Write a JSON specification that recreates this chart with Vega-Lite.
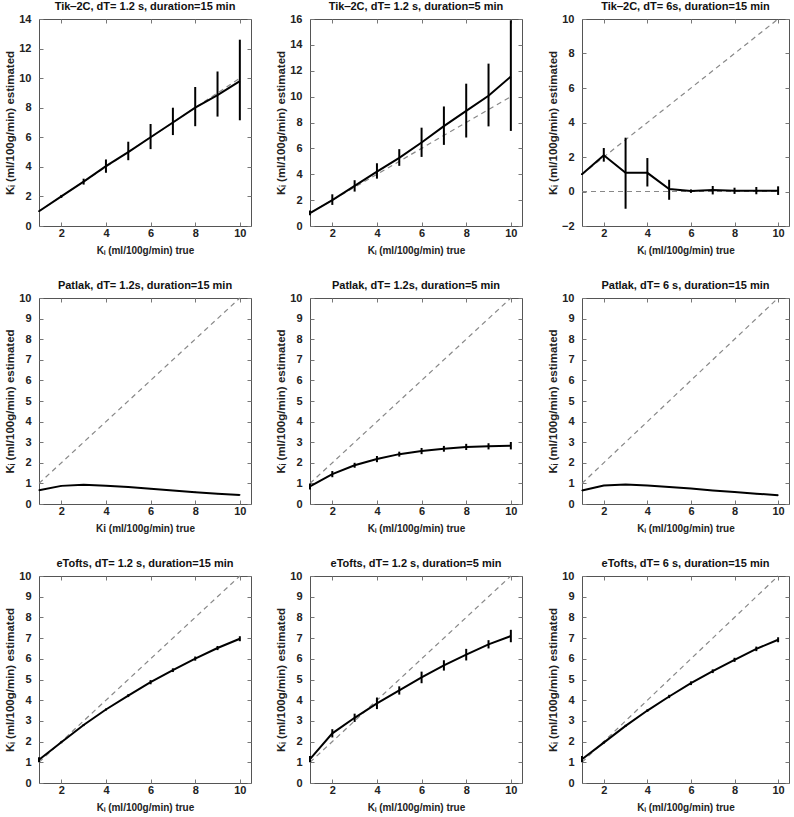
{
  "$schema": "https://vega.github.io/schema/vega-lite/v6.json",
  "padding": {"left": 4, "top": 0, "right": 2, "bottom": 2},
  "background": "white",
  "datasets": {
    "est": [
      {"p": 1, "x": 1, "y": 1.0, "lo": 0.97, "hi": 1.03},
      {"p": 1, "x": 2, "y": 2.0, "lo": 1.9, "hi": 2.1},
      {"p": 1, "x": 3, "y": 3.0, "lo": 2.8, "hi": 3.2},
      {"p": 1, "x": 4, "y": 4.05, "lo": 3.6, "hi": 4.5},
      {"p": 1, "x": 5, "y": 5.0, "lo": 4.45, "hi": 5.7},
      {"p": 1, "x": 6, "y": 6.0, "lo": 5.2, "hi": 6.9},
      {"p": 1, "x": 7, "y": 7.0, "lo": 6.15, "hi": 8.0},
      {"p": 1, "x": 8, "y": 8.0, "lo": 6.75, "hi": 9.4},
      {"p": 1, "x": 9, "y": 8.85, "lo": 7.4, "hi": 10.45},
      {"p": 1, "x": 10, "y": 9.8, "lo": 7.15, "hi": 12.6},
      {"p": 2, "x": 1, "y": 1.0, "lo": 0.83, "hi": 1.2},
      {"p": 2, "x": 2, "y": 2.0, "lo": 1.63, "hi": 2.45},
      {"p": 2, "x": 3, "y": 3.1, "lo": 2.66, "hi": 3.54},
      {"p": 2, "x": 4, "y": 4.2, "lo": 3.66, "hi": 4.85},
      {"p": 2, "x": 5, "y": 5.27, "lo": 4.65, "hi": 5.94},
      {"p": 2, "x": 6, "y": 6.45, "lo": 5.34, "hi": 7.6},
      {"p": 2, "x": 7, "y": 7.72, "lo": 6.27, "hi": 9.24},
      {"p": 2, "x": 8, "y": 8.9, "lo": 6.84, "hi": 11.0},
      {"p": 2, "x": 9, "y": 10.07, "lo": 7.7, "hi": 12.55},
      {"p": 2, "x": 10, "y": 11.55, "lo": 7.35, "hi": 15.9},
      {"p": 3, "x": 1, "y": 1.0, "lo": 0.95, "hi": 1.05},
      {"p": 3, "x": 2, "y": 2.1, "lo": 1.73, "hi": 2.52},
      {"p": 3, "x": 3, "y": 1.08, "lo": -1.0, "hi": 3.12},
      {"p": 3, "x": 4, "y": 1.08, "lo": 0.29, "hi": 1.94},
      {"p": 3, "x": 5, "y": 0.14, "lo": -0.48, "hi": 0.68},
      {"p": 3, "x": 6, "y": 0.03, "lo": -0.08, "hi": 0.12},
      {"p": 3, "x": 7, "y": 0.08, "lo": -0.17, "hi": 0.32},
      {"p": 3, "x": 8, "y": 0.05, "lo": -0.14, "hi": 0.22},
      {"p": 3, "x": 9, "y": 0.05, "lo": -0.16, "hi": 0.26},
      {"p": 3, "x": 10, "y": 0.05, "lo": -0.2, "hi": 0.3},
      {"p": 4, "x": 1, "y": 0.67, "lo": 0.65, "hi": 0.69},
      {"p": 4, "x": 2, "y": 0.88, "lo": 0.86, "hi": 0.9},
      {"p": 4, "x": 3, "y": 0.93, "lo": 0.91, "hi": 0.95},
      {"p": 4, "x": 4, "y": 0.89, "lo": 0.87, "hi": 0.91},
      {"p": 4, "x": 5, "y": 0.82, "lo": 0.8, "hi": 0.84},
      {"p": 4, "x": 6, "y": 0.74, "lo": 0.72, "hi": 0.76},
      {"p": 4, "x": 7, "y": 0.66, "lo": 0.64, "hi": 0.68},
      {"p": 4, "x": 8, "y": 0.57, "lo": 0.55, "hi": 0.59},
      {"p": 4, "x": 9, "y": 0.5, "lo": 0.48, "hi": 0.52},
      {"p": 4, "x": 10, "y": 0.44, "lo": 0.42, "hi": 0.46},
      {"p": 5, "x": 1, "y": 0.85, "lo": 0.7, "hi": 1.0},
      {"p": 5, "x": 2, "y": 1.45, "lo": 1.3, "hi": 1.6},
      {"p": 5, "x": 3, "y": 1.88, "lo": 1.76, "hi": 2.0},
      {"p": 5, "x": 4, "y": 2.18, "lo": 2.03, "hi": 2.33},
      {"p": 5, "x": 5, "y": 2.42, "lo": 2.3, "hi": 2.54},
      {"p": 5, "x": 6, "y": 2.57, "lo": 2.42, "hi": 2.72},
      {"p": 5, "x": 7, "y": 2.68, "lo": 2.54, "hi": 2.82},
      {"p": 5, "x": 8, "y": 2.77, "lo": 2.62, "hi": 2.92},
      {"p": 5, "x": 9, "y": 2.8, "lo": 2.65, "hi": 2.95},
      {"p": 5, "x": 10, "y": 2.83, "lo": 2.65, "hi": 3.01},
      {"p": 6, "x": 1, "y": 0.66, "lo": 0.64, "hi": 0.68},
      {"p": 6, "x": 2, "y": 0.9, "lo": 0.88, "hi": 0.92},
      {"p": 6, "x": 3, "y": 0.95, "lo": 0.93, "hi": 0.97},
      {"p": 6, "x": 4, "y": 0.9, "lo": 0.88, "hi": 0.92},
      {"p": 6, "x": 5, "y": 0.83, "lo": 0.81, "hi": 0.85},
      {"p": 6, "x": 6, "y": 0.75, "lo": 0.73, "hi": 0.77},
      {"p": 6, "x": 7, "y": 0.66, "lo": 0.64, "hi": 0.68},
      {"p": 6, "x": 8, "y": 0.58, "lo": 0.56, "hi": 0.6},
      {"p": 6, "x": 9, "y": 0.5, "lo": 0.48, "hi": 0.52},
      {"p": 6, "x": 10, "y": 0.43, "lo": 0.41, "hi": 0.45},
      {"p": 7, "x": 1, "y": 1.12, "lo": 1.0, "hi": 1.24},
      {"p": 7, "x": 2, "y": 1.97, "lo": 1.92, "hi": 2.02},
      {"p": 7, "x": 3, "y": 2.8, "lo": 2.75, "hi": 2.85},
      {"p": 7, "x": 4, "y": 3.55, "lo": 3.5, "hi": 3.6},
      {"p": 7, "x": 5, "y": 4.22, "lo": 4.15, "hi": 4.29},
      {"p": 7, "x": 6, "y": 4.87, "lo": 4.77, "hi": 4.97},
      {"p": 7, "x": 7, "y": 5.45, "lo": 5.36, "hi": 5.54},
      {"p": 7, "x": 8, "y": 6.01, "lo": 5.91, "hi": 6.11},
      {"p": 7, "x": 9, "y": 6.52, "lo": 6.42, "hi": 6.62},
      {"p": 7, "x": 10, "y": 6.97, "lo": 6.85, "hi": 7.09},
      {"p": 8, "x": 1, "y": 1.15, "lo": 1.0, "hi": 1.3},
      {"p": 8, "x": 2, "y": 2.4, "lo": 2.2, "hi": 2.6},
      {"p": 8, "x": 3, "y": 3.15, "lo": 2.95, "hi": 3.35},
      {"p": 8, "x": 4, "y": 3.85, "lo": 3.57, "hi": 4.13},
      {"p": 8, "x": 5, "y": 4.47, "lo": 4.27, "hi": 4.67},
      {"p": 8, "x": 6, "y": 5.1, "lo": 4.82, "hi": 5.38},
      {"p": 8, "x": 7, "y": 5.68, "lo": 5.43, "hi": 5.93},
      {"p": 8, "x": 8, "y": 6.2, "lo": 5.92, "hi": 6.48},
      {"p": 8, "x": 9, "y": 6.7, "lo": 6.5, "hi": 6.9},
      {"p": 8, "x": 10, "y": 7.1, "lo": 6.8, "hi": 7.4},
      {"p": 9, "x": 1, "y": 1.15, "lo": 1.0, "hi": 1.3},
      {"p": 9, "x": 2, "y": 1.95, "lo": 1.9, "hi": 2.0},
      {"p": 9, "x": 3, "y": 2.76, "lo": 2.71, "hi": 2.81},
      {"p": 9, "x": 4, "y": 3.5, "lo": 3.44, "hi": 3.56},
      {"p": 9, "x": 5, "y": 4.18, "lo": 4.1, "hi": 4.26},
      {"p": 9, "x": 6, "y": 4.82, "lo": 4.73, "hi": 4.91},
      {"p": 9, "x": 7, "y": 5.4, "lo": 5.31, "hi": 5.49},
      {"p": 9, "x": 8, "y": 5.95, "lo": 5.85, "hi": 6.05},
      {"p": 9, "x": 9, "y": 6.48, "lo": 6.37, "hi": 6.59},
      {"p": 9, "x": 10, "y": 6.92, "lo": 6.8, "hi": 7.04}
    ],
    "ref": [
      {"p": 1, "g": "id", "x": 1, "y": 1}, {"p": 1, "g": "id", "x": 10, "y": 10},
      {"p": 2, "g": "id", "x": 1, "y": 1}, {"p": 2, "g": "id", "x": 10, "y": 10},
      {"p": 3, "g": "id", "x": 1, "y": 1}, {"p": 3, "g": "id", "x": 10, "y": 10},
      {"p": 3, "g": "zero", "x": 1, "y": 0}, {"p": 3, "g": "zero", "x": 10, "y": 0},
      {"p": 4, "g": "id", "x": 1, "y": 1}, {"p": 4, "g": "id", "x": 10, "y": 10},
      {"p": 5, "g": "id", "x": 1, "y": 1}, {"p": 5, "g": "id", "x": 10, "y": 10},
      {"p": 6, "g": "id", "x": 1, "y": 1}, {"p": 6, "g": "id", "x": 10, "y": 10},
      {"p": 7, "g": "id", "x": 1, "y": 1}, {"p": 7, "g": "id", "x": 10, "y": 10},
      {"p": 8, "g": "id", "x": 1, "y": 1}, {"p": 8, "g": "id", "x": 10, "y": 10},
      {"p": 9, "g": "id", "x": 1, "y": 1}, {"p": 9, "g": "id", "x": 10, "y": 10}
    ]
  },
  "columns": 3,
  "spacing": {"row": 23, "column": 23},
  "concat": [
    {
      "title": "Tik‒2C, dT= 1.2 s, duration=15 min",
      "width": 212, "height": 207,
      "resolve": {"axis": {"x": "independent", "y": "independent"}},
      "layer": [
        {"data": {"name": "ref"}, "transform": [{"filter": "datum.p == 1"}],
         "mark": {"type": "line", "color": "#888", "strokeWidth": 1.2, "strokeDash": [5, 4]},
         "encoding": {
           "x": {"field": "x", "type": "quantitative", "scale": {"domain": [1, 10.5]}, "axis": {"values": [2, 4, 6, 8, 10], "title": "Kᵢ (ml/100g/min) true"}},
           "y": {"field": "y", "type": "quantitative", "scale": {"domain": [0, 14]}, "axis": {"values": [0, 2, 4, 6, 8, 10, 12, 14], "title": "Kᵢ (ml/100g/min) estimated"}},
           "detail": {"field": "g"}}},
        {"data": {"name": "est"}, "transform": [{"filter": "datum.p == 1"}],
         "mark": {"type": "line", "color": "black", "strokeWidth": 2},
         "encoding": {
           "x": {"field": "x", "type": "quantitative", "scale": {"domain": [1, 10.5]}, "axis": {"orient": "top", "values": [2, 4, 6, 8, 10], "labels": false, "title": null, "maxExtent": 0, "minExtent": 0}},
           "y": {"field": "y", "type": "quantitative", "scale": {"domain": [0, 14]}, "axis": {"orient": "right", "values": [0, 2, 4, 6, 8, 10, 12, 14], "labels": false, "title": null, "maxExtent": 0, "minExtent": 0}}}},
        {"data": {"name": "est"}, "transform": [{"filter": "datum.p == 1"}],
         "mark": {"type": "rule", "color": "black", "strokeWidth": 2},
         "encoding": {
           "x": {"field": "x", "type": "quantitative", "scale": {"domain": [1, 10.5]}, "axis": null},
           "y": {"field": "lo", "type": "quantitative", "scale": {"domain": [0, 14]}, "axis": null},
           "y2": {"field": "hi"}}}
      ]
    },
    {
      "title": "Tik‒2C, dT= 1.2 s, duration=5 min",
      "width": 212, "height": 207,
      "resolve": {"axis": {"x": "independent", "y": "independent"}},
      "layer": [
        {"data": {"name": "ref"}, "transform": [{"filter": "datum.p == 2"}],
         "mark": {"type": "line", "color": "#888", "strokeWidth": 1.2, "strokeDash": [5, 4]},
         "encoding": {
           "x": {"field": "x", "type": "quantitative", "scale": {"domain": [1, 10.5]}, "axis": {"values": [2, 4, 6, 8, 10], "title": "Kᵢ (ml/100g/min) true"}},
           "y": {"field": "y", "type": "quantitative", "scale": {"domain": [0, 16]}, "axis": {"values": [0, 2, 4, 6, 8, 10, 12, 14, 16], "title": "Kᵢ (ml/100g/min) estimated"}},
           "detail": {"field": "g"}}},
        {"data": {"name": "est"}, "transform": [{"filter": "datum.p == 2"}],
         "mark": {"type": "line", "color": "black", "strokeWidth": 2},
         "encoding": {
           "x": {"field": "x", "type": "quantitative", "scale": {"domain": [1, 10.5]}, "axis": {"orient": "top", "values": [2, 4, 6, 8, 10], "labels": false, "title": null, "maxExtent": 0, "minExtent": 0}},
           "y": {"field": "y", "type": "quantitative", "scale": {"domain": [0, 16]}, "axis": {"orient": "right", "values": [0, 2, 4, 6, 8, 10, 12, 14, 16], "labels": false, "title": null, "maxExtent": 0, "minExtent": 0}}}},
        {"data": {"name": "est"}, "transform": [{"filter": "datum.p == 2"}],
         "mark": {"type": "rule", "color": "black", "strokeWidth": 2},
         "encoding": {
           "x": {"field": "x", "type": "quantitative", "scale": {"domain": [1, 10.5]}, "axis": null},
           "y": {"field": "lo", "type": "quantitative", "scale": {"domain": [0, 16]}, "axis": null},
           "y2": {"field": "hi"}}}
      ]
    },
    {
      "title": "Tik‒2C, dT= 6s, duration=15 min",
      "width": 207, "height": 207,
      "resolve": {"axis": {"x": "independent", "y": "independent"}},
      "layer": [
        {"data": {"name": "ref"}, "transform": [{"filter": "datum.p == 3"}],
         "mark": {"type": "line", "color": "#888", "strokeWidth": 1.2, "strokeDash": [5, 4]},
         "encoding": {
           "x": {"field": "x", "type": "quantitative", "scale": {"domain": [1, 10.5]}, "axis": {"values": [2, 4, 6, 8, 10], "title": "Kᵢ (ml/100g/min) true"}},
           "y": {"field": "y", "type": "quantitative", "scale": {"domain": [-2, 10]}, "axis": {"values": [-2, 0, 2, 4, 6, 8, 10], "title": "Kᵢ (ml/100g/min) estimated"}},
           "detail": {"field": "g"}}},
        {"data": {"name": "est"}, "transform": [{"filter": "datum.p == 3"}],
         "mark": {"type": "line", "color": "black", "strokeWidth": 2},
         "encoding": {
           "x": {"field": "x", "type": "quantitative", "scale": {"domain": [1, 10.5]}, "axis": {"orient": "top", "values": [2, 4, 6, 8, 10], "labels": false, "title": null, "maxExtent": 0, "minExtent": 0}},
           "y": {"field": "y", "type": "quantitative", "scale": {"domain": [-2, 10]}, "axis": {"orient": "right", "values": [-2, 0, 2, 4, 6, 8, 10], "labels": false, "title": null, "maxExtent": 0, "minExtent": 0}}}},
        {"data": {"name": "est"}, "transform": [{"filter": "datum.p == 3"}],
         "mark": {"type": "rule", "color": "black", "strokeWidth": 2},
         "encoding": {
           "x": {"field": "x", "type": "quantitative", "scale": {"domain": [1, 10.5]}, "axis": null},
           "y": {"field": "lo", "type": "quantitative", "scale": {"domain": [-2, 10]}, "axis": null},
           "y2": {"field": "hi"}}}
      ]
    },
    {
      "title": "Patlak, dT= 1.2s, duration=15 min",
      "width": 212, "height": 206,
      "resolve": {"axis": {"x": "independent", "y": "independent"}},
      "layer": [
        {"data": {"name": "ref"}, "transform": [{"filter": "datum.p == 4"}],
         "mark": {"type": "line", "color": "#888", "strokeWidth": 1.2, "strokeDash": [5, 4]},
         "encoding": {
           "x": {"field": "x", "type": "quantitative", "scale": {"domain": [1, 10.5]}, "axis": {"values": [2, 4, 6, 8, 10], "title": "Ki (ml/100g/min) true"}},
           "y": {"field": "y", "type": "quantitative", "scale": {"domain": [0, 10]}, "axis": {"values": [0, 1, 2, 3, 4, 5, 6, 7, 8, 9, 10], "title": "Kᵢ (ml/100g/min) estimated"}},
           "detail": {"field": "g"}}},
        {"data": {"name": "est"}, "transform": [{"filter": "datum.p == 4"}],
         "mark": {"type": "line", "color": "black", "strokeWidth": 2},
         "encoding": {
           "x": {"field": "x", "type": "quantitative", "scale": {"domain": [1, 10.5]}, "axis": {"orient": "top", "values": [2, 4, 6, 8, 10], "labels": false, "title": null, "maxExtent": 0, "minExtent": 0}},
           "y": {"field": "y", "type": "quantitative", "scale": {"domain": [0, 10]}, "axis": {"orient": "right", "values": [0, 1, 2, 3, 4, 5, 6, 7, 8, 9, 10], "labels": false, "title": null, "maxExtent": 0, "minExtent": 0}}}},
        {"data": {"name": "est"}, "transform": [{"filter": "datum.p == 4"}],
         "mark": {"type": "rule", "color": "black", "strokeWidth": 1.5},
         "encoding": {
           "x": {"field": "x", "type": "quantitative", "scale": {"domain": [1, 10.5]}, "axis": null},
           "y": {"field": "lo", "type": "quantitative", "scale": {"domain": [0, 10]}, "axis": null},
           "y2": {"field": "hi"}}}
      ]
    },
    {
      "title": "Patlak, dT= 1.2s, duration=5 min",
      "width": 212, "height": 206,
      "resolve": {"axis": {"x": "independent", "y": "independent"}},
      "layer": [
        {"data": {"name": "ref"}, "transform": [{"filter": "datum.p == 5"}],
         "mark": {"type": "line", "color": "#888", "strokeWidth": 1.2, "strokeDash": [5, 4]},
         "encoding": {
           "x": {"field": "x", "type": "quantitative", "scale": {"domain": [1, 10.5]}, "axis": {"values": [2, 4, 6, 8, 10], "title": "Kᵢ (ml/100g/min) true"}},
           "y": {"field": "y", "type": "quantitative", "scale": {"domain": [0, 10]}, "axis": {"values": [0, 1, 2, 3, 4, 5, 6, 7, 8, 9, 10], "title": "Kᵢ (ml/100g/min) estimated"}},
           "detail": {"field": "g"}}},
        {"data": {"name": "est"}, "transform": [{"filter": "datum.p == 5"}],
         "mark": {"type": "line", "color": "black", "strokeWidth": 2},
         "encoding": {
           "x": {"field": "x", "type": "quantitative", "scale": {"domain": [1, 10.5]}, "axis": {"orient": "top", "values": [2, 4, 6, 8, 10], "labels": false, "title": null, "maxExtent": 0, "minExtent": 0}},
           "y": {"field": "y", "type": "quantitative", "scale": {"domain": [0, 10]}, "axis": {"orient": "right", "values": [0, 1, 2, 3, 4, 5, 6, 7, 8, 9, 10], "labels": false, "title": null, "maxExtent": 0, "minExtent": 0}}}},
        {"data": {"name": "est"}, "transform": [{"filter": "datum.p == 5"}],
         "mark": {"type": "rule", "color": "black", "strokeWidth": 2},
         "encoding": {
           "x": {"field": "x", "type": "quantitative", "scale": {"domain": [1, 10.5]}, "axis": null},
           "y": {"field": "lo", "type": "quantitative", "scale": {"domain": [0, 10]}, "axis": null},
           "y2": {"field": "hi"}}}
      ]
    },
    {
      "title": "Patlak, dT= 6 s, duration=15 min",
      "width": 207, "height": 206,
      "resolve": {"axis": {"x": "independent", "y": "independent"}},
      "layer": [
        {"data": {"name": "ref"}, "transform": [{"filter": "datum.p == 6"}],
         "mark": {"type": "line", "color": "#888", "strokeWidth": 1.2, "strokeDash": [5, 4]},
         "encoding": {
           "x": {"field": "x", "type": "quantitative", "scale": {"domain": [1, 10.5]}, "axis": {"values": [2, 4, 6, 8, 10], "title": "Kᵢ (ml/100g/min) true"}},
           "y": {"field": "y", "type": "quantitative", "scale": {"domain": [0, 10]}, "axis": {"values": [0, 1, 2, 3, 4, 5, 6, 7, 8, 9, 10], "title": "Kᵢ (ml/100g/min) estimated"}},
           "detail": {"field": "g"}}},
        {"data": {"name": "est"}, "transform": [{"filter": "datum.p == 6"}],
         "mark": {"type": "line", "color": "black", "strokeWidth": 2},
         "encoding": {
           "x": {"field": "x", "type": "quantitative", "scale": {"domain": [1, 10.5]}, "axis": {"orient": "top", "values": [2, 4, 6, 8, 10], "labels": false, "title": null, "maxExtent": 0, "minExtent": 0}},
           "y": {"field": "y", "type": "quantitative", "scale": {"domain": [0, 10]}, "axis": {"orient": "right", "values": [0, 1, 2, 3, 4, 5, 6, 7, 8, 9, 10], "labels": false, "title": null, "maxExtent": 0, "minExtent": 0}}}},
        {"data": {"name": "est"}, "transform": [{"filter": "datum.p == 6"}],
         "mark": {"type": "rule", "color": "black", "strokeWidth": 1.5},
         "encoding": {
           "x": {"field": "x", "type": "quantitative", "scale": {"domain": [1, 10.5]}, "axis": null},
           "y": {"field": "lo", "type": "quantitative", "scale": {"domain": [0, 10]}, "axis": null},
           "y2": {"field": "hi"}}}
      ]
    },
    {
      "title": "eTofts, dT= 1.2 s, duration=15 min",
      "width": 212, "height": 207,
      "resolve": {"axis": {"x": "independent", "y": "independent"}},
      "layer": [
        {"data": {"name": "ref"}, "transform": [{"filter": "datum.p == 7"}],
         "mark": {"type": "line", "color": "#888", "strokeWidth": 1.2, "strokeDash": [5, 4]},
         "encoding": {
           "x": {"field": "x", "type": "quantitative", "scale": {"domain": [1, 10.5]}, "axis": {"values": [2, 4, 6, 8, 10], "title": "Kᵢ (ml/100g/min) true"}},
           "y": {"field": "y", "type": "quantitative", "scale": {"domain": [0, 10]}, "axis": {"values": [0, 1, 2, 3, 4, 5, 6, 7, 8, 9, 10], "title": "Kᵢ (ml/100g/min) estimated"}},
           "detail": {"field": "g"}}},
        {"data": {"name": "est"}, "transform": [{"filter": "datum.p == 7"}],
         "mark": {"type": "line", "color": "black", "strokeWidth": 2},
         "encoding": {
           "x": {"field": "x", "type": "quantitative", "scale": {"domain": [1, 10.5]}, "axis": {"orient": "top", "values": [2, 4, 6, 8, 10], "labels": false, "title": null, "maxExtent": 0, "minExtent": 0}},
           "y": {"field": "y", "type": "quantitative", "scale": {"domain": [0, 10]}, "axis": {"orient": "right", "values": [0, 1, 2, 3, 4, 5, 6, 7, 8, 9, 10], "labels": false, "title": null, "maxExtent": 0, "minExtent": 0}}}},
        {"data": {"name": "est"}, "transform": [{"filter": "datum.p == 7"}],
         "mark": {"type": "rule", "color": "black", "strokeWidth": 2},
         "encoding": {
           "x": {"field": "x", "type": "quantitative", "scale": {"domain": [1, 10.5]}, "axis": null},
           "y": {"field": "lo", "type": "quantitative", "scale": {"domain": [0, 10]}, "axis": null},
           "y2": {"field": "hi"}}}
      ]
    },
    {
      "title": "eTofts, dT= 1.2 s, duration=5 min",
      "width": 212, "height": 207,
      "resolve": {"axis": {"x": "independent", "y": "independent"}},
      "layer": [
        {"data": {"name": "ref"}, "transform": [{"filter": "datum.p == 8"}],
         "mark": {"type": "line", "color": "#888", "strokeWidth": 1.2, "strokeDash": [5, 4]},
         "encoding": {
           "x": {"field": "x", "type": "quantitative", "scale": {"domain": [1, 10.5]}, "axis": {"values": [2, 4, 6, 8, 10], "title": "Kᵢ (ml/100g/min) true"}},
           "y": {"field": "y", "type": "quantitative", "scale": {"domain": [0, 10]}, "axis": {"values": [0, 1, 2, 3, 4, 5, 6, 7, 8, 9, 10], "title": "Kᵢ (ml/100g/min) estimated"}},
           "detail": {"field": "g"}}},
        {"data": {"name": "est"}, "transform": [{"filter": "datum.p == 8"}],
         "mark": {"type": "line", "color": "black", "strokeWidth": 2},
         "encoding": {
           "x": {"field": "x", "type": "quantitative", "scale": {"domain": [1, 10.5]}, "axis": {"orient": "top", "values": [2, 4, 6, 8, 10], "labels": false, "title": null, "maxExtent": 0, "minExtent": 0}},
           "y": {"field": "y", "type": "quantitative", "scale": {"domain": [0, 10]}, "axis": {"orient": "right", "values": [0, 1, 2, 3, 4, 5, 6, 7, 8, 9, 10], "labels": false, "title": null, "maxExtent": 0, "minExtent": 0}}}},
        {"data": {"name": "est"}, "transform": [{"filter": "datum.p == 8"}],
         "mark": {"type": "rule", "color": "black", "strokeWidth": 2},
         "encoding": {
           "x": {"field": "x", "type": "quantitative", "scale": {"domain": [1, 10.5]}, "axis": null},
           "y": {"field": "lo", "type": "quantitative", "scale": {"domain": [0, 10]}, "axis": null},
           "y2": {"field": "hi"}}}
      ]
    },
    {
      "title": "eTofts, dT= 6 s, duration=15 min",
      "width": 207, "height": 207,
      "resolve": {"axis": {"x": "independent", "y": "independent"}},
      "layer": [
        {"data": {"name": "ref"}, "transform": [{"filter": "datum.p == 9"}],
         "mark": {"type": "line", "color": "#888", "strokeWidth": 1.2, "strokeDash": [5, 4]},
         "encoding": {
           "x": {"field": "x", "type": "quantitative", "scale": {"domain": [1, 10.5]}, "axis": {"values": [2, 4, 6, 8, 10], "title": "Kᵢ (ml/100g/min) true"}},
           "y": {"field": "y", "type": "quantitative", "scale": {"domain": [0, 10]}, "axis": {"values": [0, 1, 2, 3, 4, 5, 6, 7, 8, 9, 10], "title": "Kᵢ (ml/100g/min) estimated"}},
           "detail": {"field": "g"}}},
        {"data": {"name": "est"}, "transform": [{"filter": "datum.p == 9"}],
         "mark": {"type": "line", "color": "black", "strokeWidth": 2},
         "encoding": {
           "x": {"field": "x", "type": "quantitative", "scale": {"domain": [1, 10.5]}, "axis": {"orient": "top", "values": [2, 4, 6, 8, 10], "labels": false, "title": null, "maxExtent": 0, "minExtent": 0}},
           "y": {"field": "y", "type": "quantitative", "scale": {"domain": [0, 10]}, "axis": {"orient": "right", "values": [0, 1, 2, 3, 4, 5, 6, 7, 8, 9, 10], "labels": false, "title": null, "maxExtent": 0, "minExtent": 0}}}},
        {"data": {"name": "est"}, "transform": [{"filter": "datum.p == 9"}],
         "mark": {"type": "rule", "color": "black", "strokeWidth": 2},
         "encoding": {
           "x": {"field": "x", "type": "quantitative", "scale": {"domain": [1, 10.5]}, "axis": null},
           "y": {"field": "lo", "type": "quantitative", "scale": {"domain": [0, 10]}, "axis": null},
           "y2": {"field": "hi"}}}
      ]
    }
  ],
  "config": {
    "font": "Liberation Sans",
    "view": {"stroke": "#555", "strokeWidth": 1},
    "axis": {
      "domain": false, "grid": false, "ticks": true, "tickSize": -4, "tickColor": "#777", "tickWidth": 1,
      "labelFont": "Liberation Sans", "labelFontWeight": "bold", "labelFontSize": 11, "labelColor": "#222",
      "titleFont": "Liberation Sans", "titleFontWeight": "bold", "titleColor": "#222"
    },
    "axisX": {"titleFontSize": 10, "titlePadding": 7, "labelPadding": 5},
    "axisY": {"titleFontSize": 11.5, "titlePadding": 3, "labelPadding": 12},
    "title": {"font": "Liberation Sans", "fontSize": 11, "fontWeight": "bold", "color": "#111", "offset": 1}
  }
}
